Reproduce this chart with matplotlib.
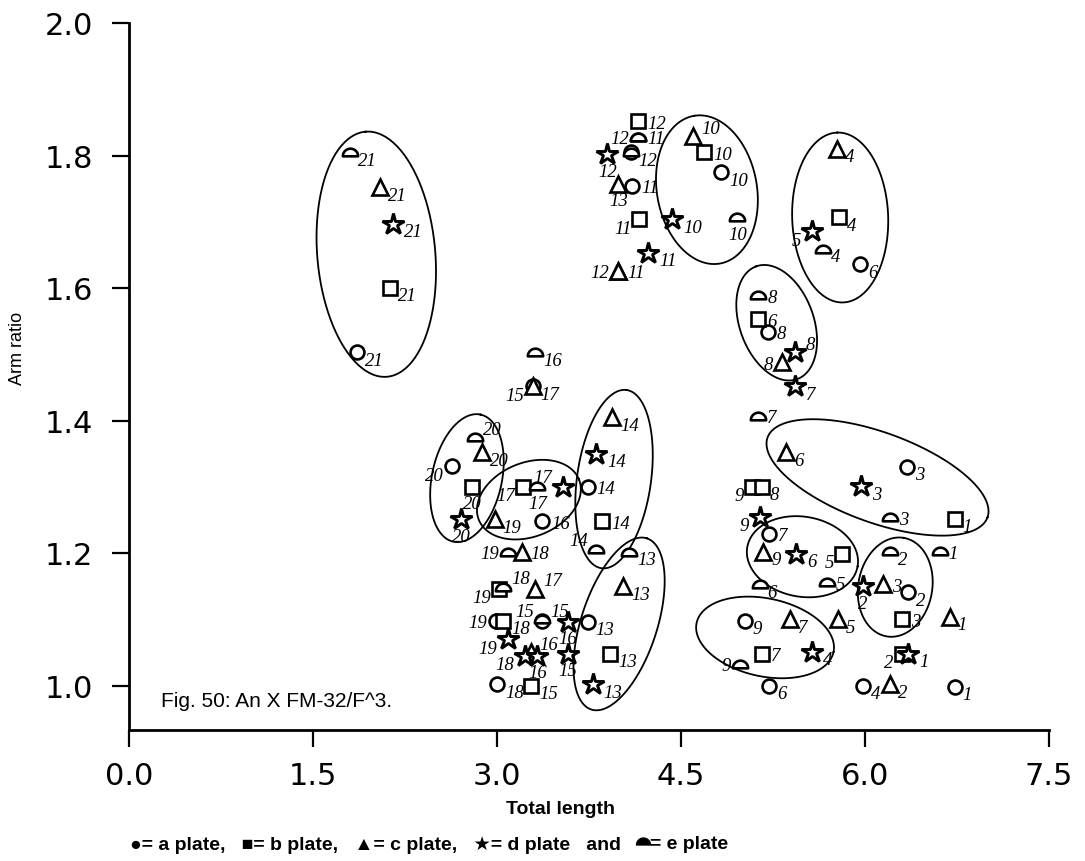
import numpy as np
import matplotlib.pyplot as plt
from matplotlib.path import Path
from matplotlib.lines import Line2D

# plate a (circles): chromosome number, total length, arm ratio
a_lab = ['21', '12', '11', '10', '6', '8', '20', '14', '16', '3', '7', '2', '9', '19', '15',
         '13', '18', '6#2', '4', '1', '17']
a_x = [1.86, 4.09, 4.10, 4.83, 5.96, 5.21, 2.63, 3.74, 3.37, 6.34, 5.22, 6.35, 5.02, 2.99, 3.37,
       3.74, 3.00, 5.22, 5.98, 6.73, 3.29]
a_y = [1.503, 1.805, 1.754, 1.775, 1.636, 1.534, 1.331, 1.300, 1.248, 1.330, 1.229, 1.141, 1.098,
       1.098, 1.098, 1.096, 1.002, 1.000, 1.000, 0.998, 1.452]

# plate b (squares)
b_lab = ['21', '12', '10', '11', '4', '6', '20', '17', '14', '9', '8', '5', '1', '19', '18', '3',
         '13', '7', '2', '15']
b_x = [2.13, 4.15, 4.69, 4.16, 5.79, 5.13, 2.80, 3.21, 3.86, 5.08, 5.16, 5.81, 6.73, 3.02, 3.05,
       6.30, 3.92, 5.16, 6.30, 3.28]
b_y = [1.600, 1.852, 1.805, 1.704, 1.707, 1.553, 1.300, 1.300, 1.248, 1.300, 1.300, 1.199, 1.252,
       1.146, 1.098, 1.100, 1.048, 1.048, 1.048, 1.000]

# plate c (triangles)
c_lab = ['21', '10', '13', '11', '12', '4', '8', '15', '14', '20', '6', '19', '18', '9', '17',
         '13#2', '3', '1', '7', '5', '16', '2']
c_x = [2.05, 4.60, 3.99, 3.99, 3.99, 5.77, 5.32, 3.29, 3.94, 2.88, 5.36, 2.98, 3.20, 5.17, 3.31,
       4.03, 6.15, 6.69, 5.39, 5.78, 3.28, 6.20]
c_y = [1.752, 1.829, 1.757, 1.626, 1.626, 1.810, 1.488, 1.452, 1.405, 1.352, 1.352, 1.251, 1.202,
       1.202, 1.146, 1.150, 1.153, 1.104, 1.100, 1.100, 1.050, 1.002]

# plate d (stars)
d_lab = ['21', '12', '10', '11', '5', '8', '7', '14', '17', '20', '3', '9', '6', '2', '16', '19',
         '18', '16#2', '15', '13', '4', '1']
d_x = [2.15, 3.90, 4.43, 4.23, 5.57, 5.43, 5.43, 3.81, 3.54, 2.71, 5.97, 5.14, 5.44, 5.98, 3.58,
       3.09, 3.23, 3.33, 3.58, 3.78, 5.57, 6.35]
d_y = [1.697, 1.802, 1.704, 1.653, 1.686, 1.503, 1.452, 1.350, 1.300, 1.251, 1.301, 1.255, 1.199,
       1.150, 1.096, 1.070, 1.045, 1.045, 1.048, 1.002, 1.051, 1.048]

# plate e (half circles)
e_lab = ['21', '11', '12', '12#2', '10', '4', '8', '16', '7', '20', '17', '14', '19', '13', '3',
         '2', '1', '18', '6', '5', '15', '9']
e_x = [1.80, 4.15, 4.15, 4.09, 4.96, 5.66, 5.13, 3.31, 5.13, 2.82, 3.33, 3.81, 3.09, 4.08, 6.20,
       6.20, 6.61, 3.05, 5.14, 5.69, 3.37, 4.98]
e_y = [1.805, 1.828, 1.828, 1.805, 1.707, 1.659, 1.589, 1.503, 1.407, 1.375, 1.301, 1.206, 1.202,
       1.202, 1.254, 1.203, 1.203, 1.149, 1.153, 1.156, 1.100, 1.033]

# where each number sits next to its symbol
a_pos = ['rb', 'rb', 'r', 'rb', 'rb', 'r', 'lb', 'r', 'r', 'rb', 'r', 'rb', 'rb', 'l', 'lu',
         'rb', 'rb', 'rb', 'rb', 'rb', 'rb']
b_pos = ['rb', 'r', 'r', 'lb', 'rb', 'r', 'b', 'lb', 'r', 'lb', 'rb', 'lb', 'rb', 'lb', 'rb',
         'r', 'rb', 'r', 'lb', 'rb']
c_pos = ['rb', 'ru', 'b', 'r', 'l', 'rb', 'l', 'lb', 'rb', 'rb', 'rb', 'rb', 'r', 'rb', 'ru',
         'rb', 'r', 'rb', 'rb', 'rb', 'ru', 'rb']
d_pos = ['rb', 'b', 'rb', 'rb', 'lb', 'ru', 'rb', 'rb', 'lu', 'b', 'rb', 'lb', 'rb', 'b', 'b',
         'lb', 'lb', 'b', 'b', 'rb', 'rb', 'rb']
e_pos = ['rb', 'r', 'l', 'none', 'b', 'rb', 'r', 'rb', 'r', 'ru', 'b', 'lu', 'l', 'rb', 'r',
         'rb', 'r', 'ru', 'rb', 'r', 'ru', 'l']

# groups circled by hand in the original
groups = [
    ['a21', 'b21', 'c21', 'd21', 'e21'],
    ['c10', 'b10', 'a10', 'd10', 'e10'],
    ['c4', 'b4', 'd5', 'e4', 'a6'],
    ['e8', 'b6', 'a8', 'd8', 'c8'],
    ['e20', 'c20', 'a20', 'b20', 'd20'],
    ['b17', 'e17', 'd17', 'a16', 'c19'],
    ['c14', 'd14', 'a14', 'b14', 'e14'],
    ['e13', 'c13#2', 'b13', 'd13'],
    ['c6', 'd3', 'a3', 'e3', 'b1'],
    ['a7', 'c9', 'd6', 'b5'],
    ['e2', 'd2', 'c3', 'a2', 'b3'],
    ['a9', 'c7', 'e9', 'b7', 'd4'],
]
# outline shape in pixels: half axes, angle, shift from the group centre
group_shape = [
    (123, 59, 95, (5, 2)),
    (75, 50, 100, (2, 12)),
    (85, 48, 92, (4, 11)),
    (60, 37, 110, (0, -6)),
    (65, 35, 78, (0, 0)),
    (54, 37, 22, (0, -4)),
    (90, 37, 82, (14, -4)),
    (90, 38, 72, (8, 6)),
    (117, 45, -20, (7, -8)),
    (56, 40, -10, (0, 13)),
    (50, 37, 80, (10, 2)),
    (70, 39, -12, (-11, -4)),
]

# half circle marker
th = np.linspace(0, np.pi, 25)
dome_v = np.column_stack([np.cos(th), np.sin(th) - 0.5])
dome_v = np.vstack([dome_v, dome_v[:1]])
dome = Path(dome_v, [Path.MOVETO] + [Path.LINETO] * (len(dome_v) - 2) + [Path.CLOSEPOLY])

plates = {
    'a': (a_lab, a_x, a_y, a_pos, 'o', 10, 1.9),
    'b': (b_lab, b_x, b_y, b_pos, 's', 10, 1.9),
    'c': (c_lab, c_x, c_y, c_pos, '^', 11, 1.9),
    'd': (d_lab, d_x, d_y, d_pos, '*', 16, 2.1),
    'e': (e_lab, e_x, e_y, e_pos, dome, 11, 1.9),
}

offsets = {'r': (9, -2, 'left'), 'rb': (8, -8, 'left'), 'ru': (8, 8, 'left'),
           'l': (-9, -2, 'right'), 'lb': (-8, -9, 'right'), 'lu': (-8, 9, 'right'),
           'b': (0, -17, 'center'), 'u': (0, 16, 'center')}

fig = plt.figure(figsize=(10.85, 8.62), dpi=100)
ax = fig.add_axes([129 / 1085, 1 - 731 / 862, 920 / 1085, 707 / 862])
ax.set_xlim(0, 7.5)
ax.set_ylim(2.0 - 707 / 662.5, 2.0)

points = {}
for p, (lab, xs, ys, pos, mk, ms, mew) in plates.items():
    ax.plot(xs, ys, linestyle='none', marker=mk, markersize=ms, markerfacecolor='white',
            markeredgecolor='black', markeredgewidth=mew, zorder=3)
    for l, x, y, ps in zip(lab, xs, ys, pos):
        points[p + l] = (x, y)
        txt = l.split('#')[0]
        if ps == 'none' or txt == '':
            continue
        dx, dy, ha = offsets[ps]
        if p == 'd' and ha != 'center':
            dx += 3 if dx > 0 else -3
        ax.annotate(txt, (x, y), xytext=(dx, dy), textcoords='offset pixels', ha=ha,
                    va='center', fontsize=13.5, family='Liberation Serif', style='italic',
                    zorder=4)

# hand drawn outlines, built in pixel space around each group
t = np.linspace(0, 2 * np.pi, 200)
inv = ax.transData.inverted()
for members, (ra, rb, ang, (sx, sy)) in zip(groups, group_shape):
    pix = ax.transData.transform([points[m] for m in members])
    cx = (pix[:, 0].min() + pix[:, 0].max()) / 2 + sx
    cy = (pix[:, 1].min() + pix[:, 1].max()) / 2 - sy
    a = np.radians(ang)
    ex = cx + ra * np.cos(t) * np.cos(a) - rb * np.sin(t) * np.sin(a)
    ey = cy + ra * np.cos(t) * np.sin(a) + rb * np.sin(t) * np.cos(a)
    d = inv.transform(np.column_stack([ex, ey]))
    ax.plot(d[:, 0], d[:, 1], color='black', linewidth=1.3, zorder=2)

for s in ['top', 'right']:
    ax.spines[s].set_visible(False)
for s in ['left', 'bottom']:
    ax.spines[s].set_linewidth(2)
ax.set_xticks([0.0, 1.5, 3.0, 4.5, 6.0, 7.5])
ax.set_yticks([1.0, 1.2, 1.4, 1.6, 1.8, 2.0])
ax.set_xticklabels(['0.0', '1.5', '3.0', '4.5', '6.0', '7.5'])
ax.set_yticklabels(['1.0', '1.2', '1.4', '1.6', '1.8', '2.0'])
ax.tick_params(axis='both', length=12, width=1.6, labelsize=22)
ax.tick_params(axis='y', pad=14)
ax.tick_params(axis='x', pad=10)
for lb in ax.get_xticklabels() + ax.get_yticklabels():
    lb.set_family('DejaVu Sans')

ax.text(0.26, 0.977, 'Fig. 50: An X FM-32/F^3.', fontsize=15, family='Liberation Sans',
        va='center', ha='left')

fig.text(18 / 1085, 1 - 348 / 862, 'Arm ratio', rotation=90, ha='center', va='center',
         fontsize=13, family='Liberation Sans')
fig.text(560 / 1085, 1 - 810 / 862, 'Total length', ha='center', va='center', fontsize=14,
         family='Liberation Sans', fontweight='bold')

leg_font = dict(fontsize=14, fontweight='bold', family=['Liberation Sans', 'DejaVu Sans'])
leg = fig.text(130 / 1085, 1 - 845 / 862,
               '\u25cf= a plate,   \u25a0= b plate,   \u25b2= c plate,   \u2605= d plate   and   ',
               ha='left', va='center', **leg_font)
fig.canvas.draw()
bb = leg.get_window_extent(fig.canvas.get_renderer())
fx, fy = fig.transFigure.inverted().transform((bb.x1 + 6, (bb.y0 + bb.y1) / 2 + 3))
fig.add_artist(Line2D([fx], [fy], marker=dome, markersize=10, color='black',
                      transform=fig.transFigure, linestyle='none'))
fx2, _ = fig.transFigure.inverted().transform((bb.x1 + 13, 0))
fig.text(fx2, 1 - 845 / 862, '= e plate', ha='left', va='center', **leg_font)

fig.savefig('out.png', dpi=100)
